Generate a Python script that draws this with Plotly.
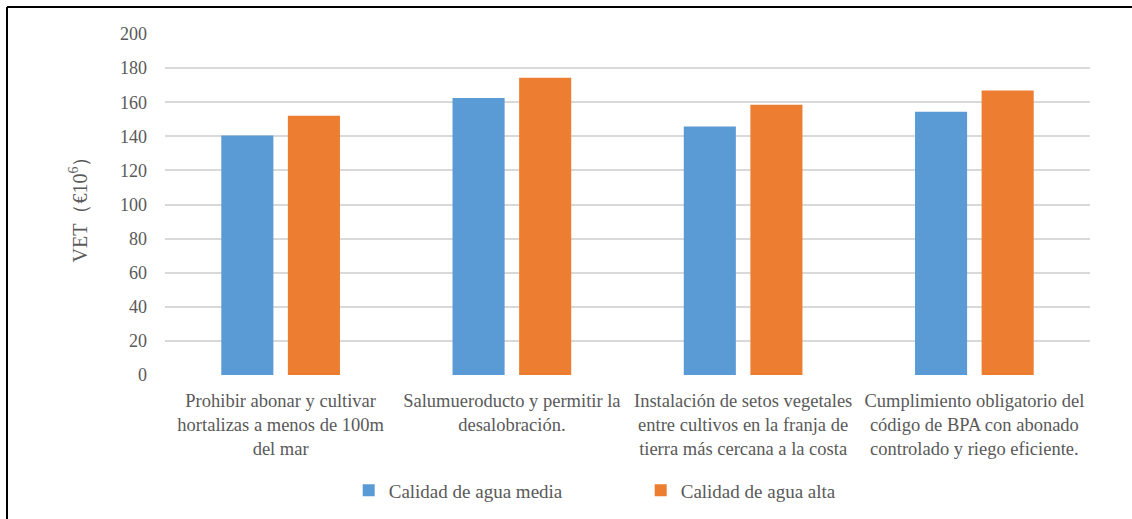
import plotly.graph_objects as go

categories = [
    "Prohibir abonar y cultivar<br>hortalizas a menos de 100m<br>del mar",
    "Salumueroducto y permitir la<br>desalobración.",
    "Instalación de setos vegetales<br>entre cultivos en la franja de<br>tierra más cercana a la costa",
    "Cumplimiento obligatorio del<br>código de BPA con abonado<br>controlado y riego eficiente.",
]
calidad_media = [140.4, 162.5, 145.7, 154.4]
calidad_alta = [152.0, 174.3, 158.5, 166.9]
y_ticks = list(range(0, 201, 20))

FONT = "Liberation Serif"
GREY = "#595959"

fig = go.Figure()
fig.add_bar(x=categories, y=calidad_media, name="Calidad de agua media",
            marker=dict(color="#5B9BD5", line=dict(width=0)))
fig.add_bar(x=categories, y=calidad_alta, name="Calidad de agua alta",
            marker=dict(color="#ED7D31", line=dict(width=0)))

fig.update_layout(
    width=1132, height=519,
    margin=dict(l=165, r=42, t=34, b=144),
    paper_bgcolor="white", plot_bgcolor="white",
    font=dict(family=FONT, color=GREY, size=17),
    barmode="group", bargap=0.424, bargroupgap=0.218,
    showlegend=True,
    legend=dict(orientation="h", x=0.1986, xanchor="left",
                yref="container", y=0.0915, yanchor="top",
                font=dict(family=FONT, size=19, color=GREY), itemwidth=30,
                entrywidth=247, traceorder="normal"),
)
fig.update_yaxes(range=[0, 200], tickvals=y_ticks, showgrid=True, gridcolor="#D9D9D9",
                 gridwidth=1.5, zeroline=False, showline=False, ticks="",
                 ticklabelstandoff=17, tickfont=dict(family=FONT, size=18),
                 automargin=False,
                 title=dict(text="VET（€10<sup>6</sup>）", font=dict(family=FONT, size=20),
                            standoff=27))
fig.update_xaxes(showline=False, ticks="", tickfont=dict(family=FONT, size=18.5),
                 ticklabelstandoff=12, automargin=False)

# outer frame (top and left edges)
fig.add_shape(type="line", xref="paper", yref="paper", x0=-0.1708, x1=1.0454,
              y0=1.0792, y1=1.0792, line=dict(color="black", width=2))
fig.add_shape(type="line", xref="paper", yref="paper", x0=-0.1708, x1=-0.1708,
              y0=1.0792, y1=-0.43, line=dict(color="black", width=2))

fig.write_html("out.html", config={"displayModeBar": False},
               post_script="document.body.style.margin='0';")
